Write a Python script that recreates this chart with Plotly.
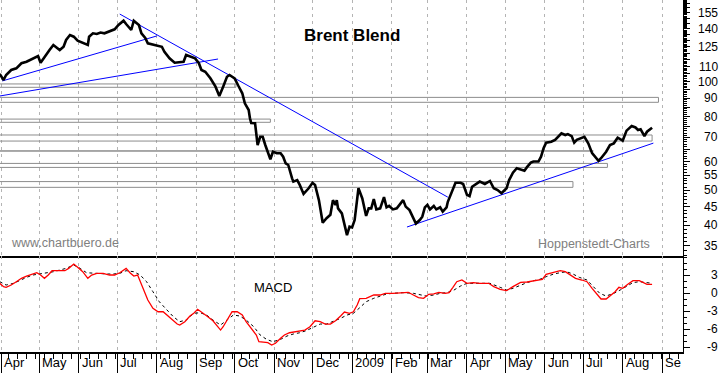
import numpy as np
import plotly.graph_objects as go

# ---------------- data ----------------
price_dates = [
    "2008-03-31", "2008-04-03", "2008-04-05", "2008-04-09", "2008-04-13", "2008-04-17", "2008-04-21",
    "2008-04-26", "2008-04-30", "2008-05-02", "2008-05-05", "2008-05-09", "2008-05-12", "2008-05-15",
    "2008-05-17", "2008-05-20", "2008-05-22", "2008-05-25", "2008-05-28", "2008-05-31", "2008-06-04",
    "2008-06-08", "2008-06-09", "2008-06-12", "2008-06-15", "2008-06-18", "2008-06-21", "2008-06-25",
    "2008-06-29", "2008-07-02", "2008-07-06", "2008-07-08", "2008-07-10", "2008-07-12", "2008-07-14",
    "2008-07-18", "2008-07-20", "2008-07-23", "2008-07-25", "2008-07-31", "2008-08-05", "2008-08-07",
    "2008-08-11", "2008-08-15", "2008-08-19", "2008-08-22", "2008-08-24", "2008-08-27", "2008-08-31",
    "2008-09-03", "2008-09-05", "2008-09-08", "2008-09-12", "2008-09-16", "2008-09-19", "2008-09-22",
    "2008-09-25", "2008-09-27", "2008-10-01", "2008-10-04", "2008-10-07", "2008-10-09", "2008-10-12",
    "2008-10-13", "2008-10-14", "2008-10-17", "2008-10-19", "2008-10-21", "2008-10-23", "2008-10-25",
    "2008-10-27", "2008-10-29", "2008-10-31", "2008-11-03", "2008-11-06", "2008-11-08", "2008-11-10",
    "2008-11-12", "2008-11-15", "2008-11-16", "2008-11-19", "2008-11-21", "2008-11-24", "2008-11-28",
    "2008-12-01", "2008-12-03", "2008-12-06", "2008-12-09", "2008-12-12", "2008-12-15", "2008-12-17",
    "2008-12-19", "2008-12-20", "2008-12-21", "2008-12-24", "2008-12-26", "2008-12-28", "2008-12-30",
    "2009-01-01", "2009-01-03", "2009-01-06", "2009-01-09", "2009-01-12", "2009-01-14", "2009-01-16",
    "2009-01-18", "2009-01-20", "2009-01-23", "2009-01-26", "2009-01-28", "2009-01-30", "2009-02-02",
    "2009-02-05", "2009-02-10", "2009-02-12", "2009-02-15", "2009-02-18", "2009-02-20", "2009-02-23",
    "2009-02-25", "2009-02-27", "2009-03-01", "2009-03-03", "2009-03-06", "2009-03-08", "2009-03-11",
    "2009-03-13", "2009-03-16", "2009-03-17", "2009-03-20", "2009-03-23", "2009-03-27", "2009-03-29",
    "2009-04-01", "2009-04-03", "2009-04-05", "2009-04-09", "2009-04-11", "2009-04-15", "2009-04-19",
    "2009-04-22", "2009-04-25", "2009-04-28", "2009-05-02", "2009-05-04", "2009-05-07", "2009-05-10",
    "2009-05-13", "2009-05-16", "2009-05-18", "2009-05-21", "2009-05-23", "2009-05-27", "2009-05-29",
    "2009-05-31", "2009-06-02", "2009-06-06", "2009-06-09", "2009-06-12", "2009-06-14", "2009-06-17",
    "2009-06-19", "2009-06-22", "2009-06-24", "2009-06-26", "2009-06-30", "2009-07-02", "2009-07-05",
    "2009-07-08", "2009-07-13", "2009-07-15", "2009-07-19", "2009-07-22", "2009-07-25", "2009-07-28",
    "2009-07-30", "2009-08-01", "2009-08-04", "2009-08-08", "2009-08-11", "2009-08-13", "2009-08-15",
    "2009-08-18", "2009-08-20", "2009-08-22", "2009-08-24",
]
price_values = [
    105.0, 101.0, 104.3, 107.7, 108.8, 112.4, 113.5,
    116.0, 117.7, 112.8, 117.2, 122.3, 126.3, 123.7,
    122.3, 124.9, 130.4, 134.6, 133.2, 129.8, 128.2,
    126.3, 133.2, 136.1, 135.5, 136.8, 136.1, 137.5,
    139.6, 143.5, 147.5, 144.4, 141.7, 139.0, 147.5,
    143.5, 136.1, 132.1, 127.7, 126.3, 124.9, 121.0,
    116.0, 112.8, 113.5, 113.5, 118.5, 117.2, 116.0,
    112.4, 107.7, 106.5, 102.1, 96.8, 91.2, 96.8,
    103.1, 104.3, 102.1, 97.2, 92.8, 87.0, 83.4,
    79.1, 76.7, 76.6, 66.7, 70.3, 70.3, 66.7,
    63.9, 60.9, 63.9, 63.3, 63.3, 61.9, 59.3,
    58.7, 53.9, 52.8, 53.3, 51.7, 48.8, 50.6,
    52.4, 51.7, 46.9, 40.6, 41.8, 42.7, 46.9,
    45.5, 46.9, 44.5, 43.1, 39.8, 37.5, 39.6,
    39.4, 41.3, 50.6, 47.4, 42.4, 44.5, 44.5,
    47.2, 44.2, 44.5, 47.8, 44.8, 45.2, 44.2,
    44.5, 46.9, 45.0, 44.0, 41.8, 40.4, 41.3,
    42.2, 44.8, 45.5, 44.2, 45.2, 44.2, 44.8,
    43.6, 44.8, 46.4, 49.5, 52.4, 52.4, 52.0,
    48.5, 48.1, 51.1, 52.2, 52.8, 52.0, 53.0,
    50.6, 50.0, 49.0, 50.6, 53.3, 55.9, 57.5,
    57.1, 56.6, 57.9, 59.6, 60.0, 60.0, 61.9,
    65.3, 67.7, 68.1, 68.9, 70.6, 71.9, 71.1,
    71.5, 70.6, 67.7, 68.9, 69.9, 70.3, 67.4,
    63.3, 60.3, 61.3, 63.9, 66.7, 67.4, 69.9,
    69.2, 68.6, 73.1, 75.3, 74.6, 73.4, 73.7,
    70.6, 72.6, 73.7, 74.5,
]

macd_dates = [
    "2008-03-31", "2008-04-03", "2008-04-05", "2008-04-09", "2008-04-13", "2008-04-17", "2008-04-21",
    "2008-04-25", "2008-04-29", "2008-05-02", "2008-05-05", "2008-05-08", "2008-05-11", "2008-05-16",
    "2008-05-21", "2008-05-24", "2008-05-28", "2008-05-31", "2008-06-04", "2008-06-08", "2008-06-11",
    "2008-06-15", "2008-06-20", "2008-06-25", "2008-06-29", "2008-07-03", "2008-07-08", "2008-07-11",
    "2008-07-14", "2008-07-17", "2008-07-19", "2008-07-22", "2008-07-25", "2008-07-29", "2008-08-02",
    "2008-08-06", "2008-08-09", "2008-08-13", "2008-08-17", "2008-08-19", "2008-08-23", "2008-08-27",
    "2008-08-30", "2008-09-02", "2008-09-06", "2008-09-10", "2008-09-14", "2008-09-17", "2008-09-20",
    "2008-09-22", "2008-09-26", "2008-09-29", "2008-10-03", "2008-10-07", "2008-10-10", "2008-10-14",
    "2008-10-18", "2008-10-20", "2008-10-24", "2008-10-27", "2008-10-30", "2008-11-02", "2008-11-06",
    "2008-11-09", "2008-11-13", "2008-11-17", "2008-11-21", "2008-11-25", "2008-11-29", "2008-12-03",
    "2008-12-07", "2008-12-11", "2008-12-15", "2008-12-19", "2008-12-23", "2008-12-26", "2008-12-30",
    "2009-01-02", "2009-01-05", "2009-01-07", "2009-01-12", "2009-01-18", "2009-01-23", "2009-01-27",
    "2009-02-02", "2009-02-08", "2009-02-14", "2009-02-18", "2009-02-22", "2009-02-26", "2009-03-02",
    "2009-03-06", "2009-03-10", "2009-03-15", "2009-03-18", "2009-03-21", "2009-03-24", "2009-03-28",
    "2009-04-01", "2009-04-06", "2009-04-11", "2009-04-18", "2009-04-22", "2009-04-27", "2009-05-02",
    "2009-05-07", "2009-05-13", "2009-05-18", "2009-05-23", "2009-05-30", "2009-06-02", "2009-06-08",
    "2009-06-13", "2009-06-17", "2009-06-21", "2009-06-25", "2009-06-30", "2009-07-04", "2009-07-08",
    "2009-07-12", "2009-07-15", "2009-07-19", "2009-07-22", "2009-07-26", "2009-07-29", "2009-08-01",
    "2009-08-05", "2009-08-09", "2009-08-14", "2009-08-18", "2009-08-20", "2009-08-24",
]
macd_values = [
    1.67, 1.1, 1.0, 1.38, 1.94, 2.5, 2.88,
    3.22, 3.43, 3.05, 2.5, 3.05, 3.77, 3.77,
    3.77, 4.16, 4.88, 4.33, 3.6, 2.5, 3.05,
    3.33, 3.33, 3.05, 3.05, 3.43, 4.16, 3.43,
    2.88, 3.05, 1.94, 0.55, -1.12, -2.5, -3.07,
    -3.07, -3.62, -4.45, -5.12, -5.28, -4.73, -3.78,
    -3.33, -2.67, -3.23, -3.9, -4.57, -5.28, -6.12,
    -5.57, -4.17, -3.07, -3.07, -3.62, -4.73, -5.83,
    -6.95, -8.07, -8.12, -8.23, -8.62, -8.33, -7.5,
    -6.95, -6.57, -6.4, -6.23, -6.12, -5.57, -4.57,
    -4.73, -5.12, -5.12, -4.57, -3.78, -3.12, -3.33,
    -3.07, -1.95, -0.9, -0.83, -0.28, -0.28, 0.0,
    0.0, 0.11, 0.17, -0.28, -0.72, -0.83, -0.17,
    -0.11, 0.17, 0.0, 0.11, 1.0, 1.94, 2.22,
    1.67, 1.78, 1.67, 1.67, 1.11, 0.67, 0.44,
    1.11, 1.83, 1.89, 2.1, 2.33, 3.17, 3.44,
    3.77, 3.61, 3.05, 2.5, 2.22, 1.94, 0.83,
    -0.28, -0.95, -0.95, -0.45, 0.27, 1.0, 0.83,
    1.5, 2.1, 2.1, 1.67, 1.5, 1.5,
]

signal_dates = [
    "2008-03-31", "2008-04-05", "2008-04-11", "2008-04-16", "2008-04-21", "2008-04-26", "2008-05-01",
    "2008-05-07", "2008-05-12", "2008-05-17", "2008-05-22", "2008-05-28", "2008-06-02", "2008-06-07",
    "2008-06-12", "2008-06-18", "2008-06-23", "2008-06-28", "2008-07-03", "2008-07-08", "2008-07-14",
    "2008-07-19", "2008-07-24", "2008-07-29", "2008-08-03", "2008-08-09", "2008-08-14", "2008-08-19",
    "2008-08-24", "2008-08-30", "2008-09-04", "2008-09-09", "2008-09-14", "2008-09-20", "2008-09-25",
    "2008-09-30", "2008-10-05", "2008-10-10", "2008-10-16", "2008-10-21", "2008-10-26", "2008-10-31",
    "2008-11-06", "2008-11-11", "2008-11-16", "2008-11-21", "2008-11-26", "2008-12-02", "2008-12-07",
    "2008-12-12", "2008-12-17", "2008-12-23", "2008-12-28", "2009-01-02", "2009-01-07", "2009-01-12",
    "2009-01-18", "2009-01-23", "2009-01-28", "2009-02-02", "2009-02-10", "2009-02-18", "2009-02-23",
    "2009-02-28", "2009-03-06", "2009-03-11", "2009-03-16", "2009-03-21", "2009-03-27", "2009-04-01",
    "2009-04-06", "2009-04-11", "2009-04-19", "2009-04-27", "2009-05-02", "2009-05-07", "2009-05-13",
    "2009-05-18", "2009-05-23", "2009-05-28", "2009-06-02", "2009-06-08", "2009-06-13", "2009-06-18",
    "2009-06-23", "2009-06-28", "2009-07-04", "2009-07-09", "2009-07-14", "2009-07-19", "2009-07-25",
    "2009-07-30", "2009-08-04", "2009-08-09", "2009-08-14", "2009-08-20", "2009-08-24",
]
signal_values = [
    1.94, 1.38, 1.67, 2.22, 2.66, 3.05, 3.22,
    3.33, 3.6, 3.88, 4.16, 4.72, 4.16, 3.43,
    3.33, 3.33, 3.22, 3.22, 3.33, 3.77, 3.6,
    3.05, 1.94, 0.27, -1.4, -2.78, -3.9, -4.73,
    -4.45, -3.33, -3.23, -3.62, -4.45, -5.28, -4.45,
    -3.62, -3.78, -4.45, -5.57, -6.95, -7.67, -8.07,
    -7.67, -7.12, -6.78, -6.57, -6.23, -5.57, -5.12,
    -5.12, -4.73, -4.17, -3.62, -3.33, -2.4, -1.4,
    -0.83, -0.45, -0.11, 0.0, 0.11, 0.0, -0.28,
    -0.45, -0.28, 0.0, 0.11, 0.44, 1.22, 1.67,
    1.67, 1.67, 1.67, 1.0, 0.55, 0.83, 1.39,
    1.78, 2.1, 2.33, 2.77, 3.22, 3.44, 3.6,
    3.22, 2.66, 2.22, 1.11, 0.0, -0.45, 0.0,
    0.55, 1.22, 1.78, 1.94, 1.78, 1.67,
]

# trend lines (date pairs and price pairs)
trend1_dates = ["2008-04-02", "2008-08-01"]
trend1_values = [100.4, 133.8]
trend2_dates = ["2008-03-31", "2008-09-18"]
trend2_values = [91.2, 115.5]
trend3_dates = ["2008-07-03", "2009-03-17"]
trend3_values = [153.9, 47.8]
trend4_dates = ["2009-02-13", "2009-08-25"]
trend4_values = [39.5, 67.5]

# horizontal support / resistance zones
zone_low = [96.4, 87.6, 77.1, 68.4, 64.2, 57.8, 50.9]
zone_high = [98.5, 90.4, 78.7, 71.1, 64.2, 59.3, 52.8]
zone_end = ["2008-10-02", "2009-08-29", "2008-10-29", "2009-08-24", "2009-07-09", "2009-07-20", "2009-06-23"]

price_ticks = [155, 140, 125, 110, 100, 90, 80, 70, 60, 55, 50, 45, 40, 35]
macd_ticks = [3, 0, -3, -6, -9]
month_starts = ["2008-04-01", "2008-05-01", "2008-06-01", "2008-07-01", "2008-08-01", "2008-09-01",
                "2008-10-01", "2008-11-01", "2008-12-01", "2009-01-01", "2009-02-01", "2009-03-01",
                "2009-04-01", "2009-05-01", "2009-06-01", "2009-07-01", "2009-08-01", "2009-09-01"]
month_labels = ["Apr", "May", "Jun", "Jul", "Aug", "Sep", "Oct", "Nov", "Dec", "2009",
                "Feb", "Mar", "Apr", "May", "Jun", "Jul", "Aug", "Se"]

# ---------------- figure ----------------
W, H = 723, 373
ML, MR, MT, MB = 0, 40, 0, 21
PW, PH = W - ML - MR, H - MT - MB
split = 96 / PH
x_range = ["2008-03-31 05:00", "2009-09-17 05:00"]
FONT = "Liberation Sans, Arial, sans-serif"

fig = go.Figure()

# support / resistance boxes (shape coordinates on a log axis are given in data units)
for lo, hi, end in zip(zone_low, zone_high, zone_end):
    fig.add_shape(type="rect", xref="x", yref="y", x0="2008-03-20", x1=end,
                  y0=lo, y1=hi,
                  line=dict(color="#8c8c8c", width=1), fillcolor="rgba(0,0,0,0)", layer="between")

# trend lines
for d, v in [(trend1_dates, trend1_values), (trend2_dates, trend2_values),
             (trend3_dates, trend3_values), (trend4_dates, trend4_values)]:
    fig.add_trace(go.Scatter(x=d, y=v, mode="lines", line=dict(color="#0000ff", width=1),
                             xaxis="x", yaxis="y", showlegend=False, hoverinfo="skip"))

fig.add_trace(go.Scatter(x=price_dates, y=price_values, mode="lines",
                         line=dict(color="black", width=2.6), xaxis="x", yaxis="y",
                         showlegend=False))

fig.add_trace(go.Scatter(x=signal_dates, y=signal_values, mode="lines",
                         line=dict(color="black", width=1, dash="3px,3px"),
                         xaxis="x2", yaxis="y2", showlegend=False))
fig.add_trace(go.Scatter(x=macd_dates, y=macd_values, mode="lines",
                         line=dict(color="#ff0000", width=1.3),
                         xaxis="x2", yaxis="y2", showlegend=False))

grid = dict(showgrid=True, gridcolor="#b4b4b4", griddash="3px,4px", gridwidth=1)

fig.update_layout(
    template="none",
    width=W, height=H,
    margin=dict(l=ML, r=MR, t=MT, b=MB, pad=0),
    paper_bgcolor="white", plot_bgcolor="white",
    showlegend=False, hovermode=False,
    font=dict(family=FONT, size=12, color="black"),
    xaxis=dict(type="date", range=x_range, domain=[0, 1], anchor="y",
               tickmode="linear", tick0="2008-04-01", dtick="M1",
               showticklabels=False, ticks="", zeroline=False,
               showline=True, linecolor="black", linewidth=2, automargin=False, **grid),
    xaxis2=dict(type="date", range=x_range, domain=[0, 1], anchor="y2",
                tickmode="linear", tick0="2008-04-01", dtick="M1",
                showticklabels=False, ticks="outside", ticklen=20, tickwidth=1, tickcolor="black",
                minor=dict(ticks="outside", ticklen=5, tickwidth=1, tickcolor="black",
                           tick0="2008-03-31", dtick=7 * 86400000, showgrid=False),
                zeroline=False, showline=True, linecolor="black", linewidth=2,
                automargin=False, **grid),
    yaxis=dict(type="log", domain=[split, 1], anchor="x", side="right",
               range=[np.log10(32.83), np.log10(168.35)],
               tickmode="array", tickvals=list(range(35, 170, 5)),
               ticks="outside", ticklen=6, tickwidth=1, tickcolor="black",
               minor=dict(tickmode="array", tickvals=list(range(33, 169)),
                          ticks="outside", ticklen=3, tickwidth=1, tickcolor="black", showgrid=False),
               showticklabels=False, showgrid=False, zeroline=False,
               showline=True, linecolor="black", linewidth=1, automargin=False),
    yaxis2=dict(domain=[0, split], anchor="x2", side="right", range=[-9.78, 6.22],
                tickmode="array", tickvals=macd_ticks,
                ticks="outside", ticklen=6, tickwidth=1, tickcolor="black",
                minor=dict(tickmode="linear", tick0=0, dtick=1,
                           ticks="outside", ticklen=3, tickwidth=1, tickcolor="black", showgrid=False),
                showticklabels=False, showgrid=False, zeroline=False,
                showline=True, linecolor="black", linewidth=1, automargin=False),
)

ann = []
# right axis labels (annotation positions on a log axis are given as log10)
for v in price_ticks:
    ann.append(dict(x=720 / PW, xref="paper", y=np.log10(v), yref="y", text=str(v),
                    showarrow=False, xanchor="right", yanchor="middle",
                    font=dict(family=FONT, size=12, color="black")))
for v in macd_ticks:
    ann.append(dict(x=720 / PW, xref="paper", y=v, yref="y2", text=str(v),
                    showarrow=False, xanchor="right", yanchor="middle",
                    font=dict(family=FONT, size=12, color="black")))
# month labels
for d, lab in zip(month_starts, month_labels):
    ann.append(dict(x=d, xref="x2", y=-10 / PH, yref="paper", text=lab, showarrow=False,
                    xanchor="left", yanchor="middle", xshift=1,
                    font=dict(family=FONT, size=13, color="black")))
# texts
ann.append(dict(x=352 / PW, xref="paper", y=(PH - 35) / PH, yref="paper", text="<b>Brent Blend</b>",
                showarrow=False, xanchor="center", yanchor="middle",
                font=dict(family=FONT, size=17, color="black")))
ann.append(dict(x=273 / PW, xref="paper", y=(PH - 287) / PH, yref="paper", text="MACD",
                showarrow=False, xanchor="center", yanchor="middle",
                font=dict(family=FONT, size=13, color="black")))
ann.append(dict(x=8.5 / PW, xref="paper", y=(PH - 243) / PH, yref="paper", text="www.chartbuero.de",
                showarrow=False, xanchor="left", yanchor="middle",
                font=dict(family=FONT, size=12.5, color="#808080")))
ann.append(dict(x=652 / PW, xref="paper", y=(PH - 244) / PH, yref="paper", text="Hoppenstedt-Charts",
                showarrow=False, xanchor="right", yanchor="middle",
                font=dict(family=FONT, size=12.5, color="#808080")))
fig.update_layout(annotations=ann)

fig.write_html("out.html", config={"displayModeBar": False},
               post_script="document.body.style.margin='0px';document.body.style.overflow='hidden';")
